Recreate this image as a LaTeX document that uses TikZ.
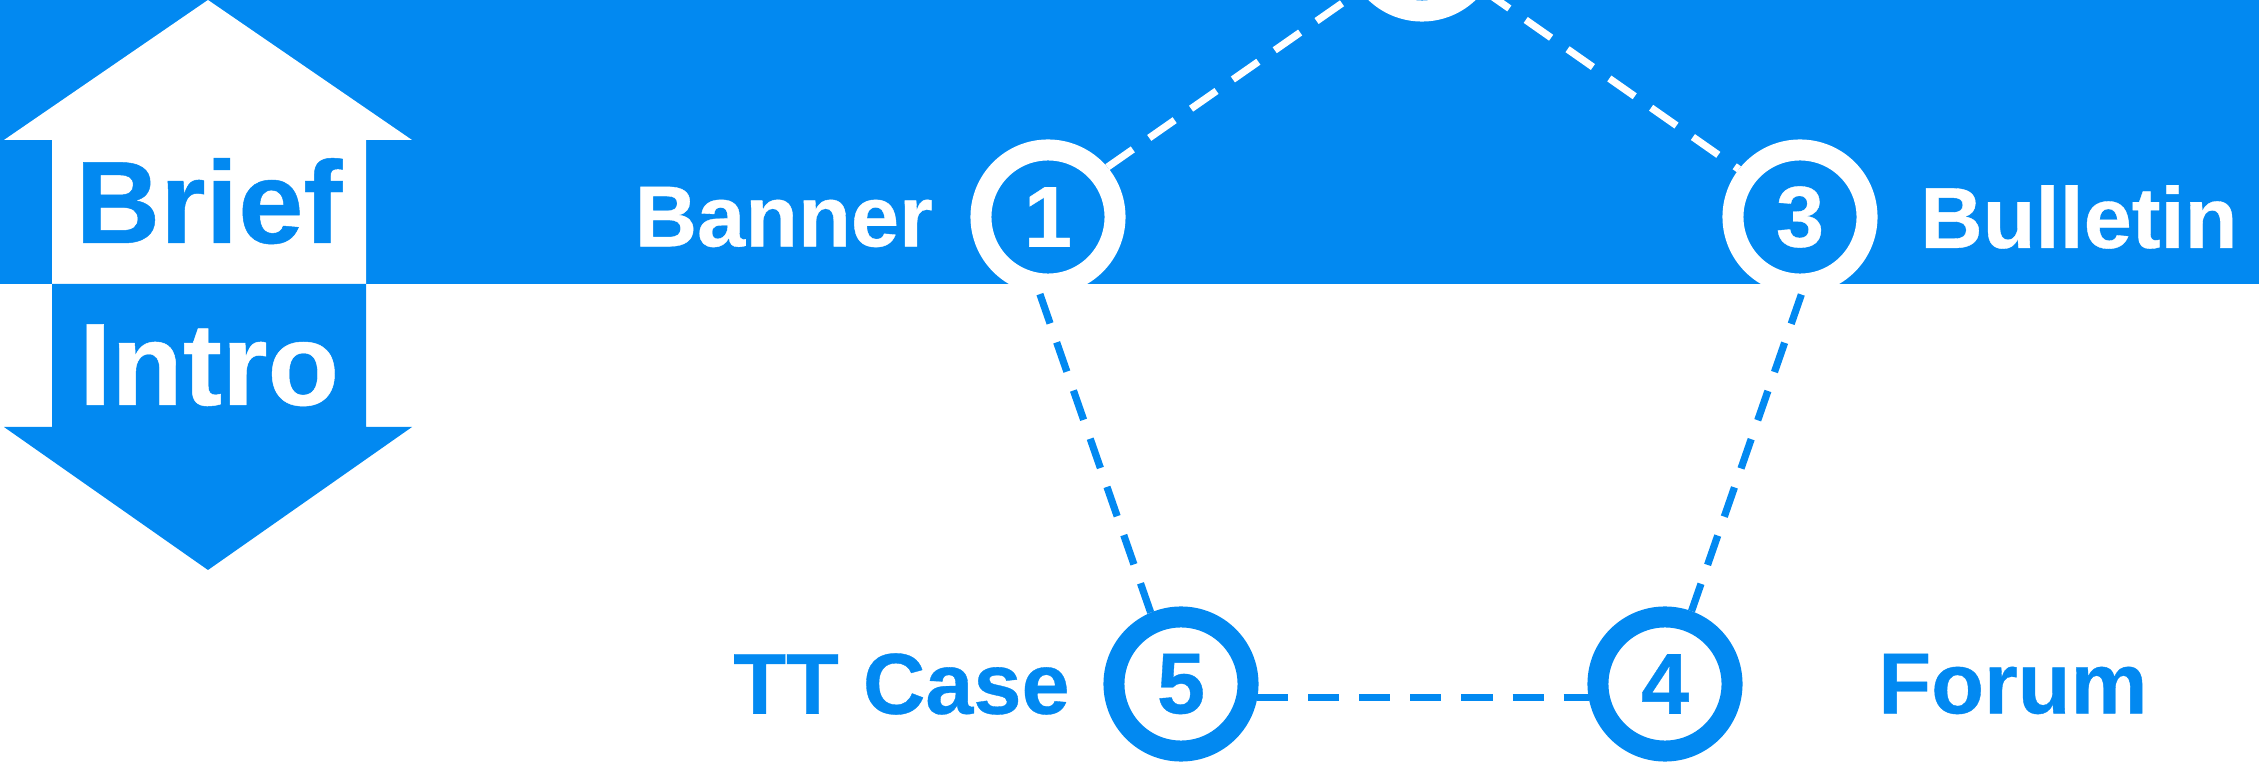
\documentclass[tikz,border=0pt]{standalone}
\usepackage{fontspec}
\setmainfont{Liberation Sans}[BoldFeatures={FakeBold=0.4}]
\usetikzlibrary{positioning}
\definecolor{introblue}{RGB}{2,137,241}

\begin{document}
\begin{tikzpicture}[x=0.01cm, y=-0.01cm, every node/.style={font=\bfseries\fontsize{24.6}{28}\selectfont},
    ring/.style={circle, line width=0.21cm, minimum size=1.34cm, inner sep=0pt},
    bandring/.style={ring, draw=white, text=white},
    plainring/.style={ring, draw=introblue, text=introblue},
    link/.style={line width=0.072cm, dash pattern=on 0.31cm off 0.2cm},
    bigtext/.style={anchor=base, font=\bfseries\fontsize{33.3}{38}\selectfont}]
    \useasboundingbox (0,0) rectangle (2259,767);
    \clip (0,0) rectangle (2259,767);
    \fill[introblue] (0,0) rectangle (2259,284);

    % double arrow, white on the band and blue below it
    \fill[white] (208,0) -- (412,140) -- (366,140) -- (366,284) -- (52,284) -- (52,140) -- (4,140) -- cycle;
    \fill[introblue] (52,284) -- (366,284) -- (366,427) -- (412,427) -- (208,570) -- (4,427) -- (52,427) -- cycle;
    \node (brief) [bigtext, text=introblue] at (209,243) {Brief};
    \node (intro) [bigtext, text=white] at (209,405) {Intro};

    \node (banner) [bandring] at (1048,217) {1};
    \node (hub) [bandring] at (1422,-56) {};
    \node (bulletin) [bandring] at (1800,217) {3};
    \node (forum) [plainring] at (1665,684) {4};
    \node (ttcase) [plainring] at (1181,684) {5};

    \node (bannerlabel) [inner sep=0pt, text=white, left=0.37cm of banner] {Banner};
    \node (bulletinlabel) [inner sep=0pt, text=white, right=0.42cm of bulletin] {Bulletin};
    \node (forumlabel) [inner sep=0pt, text=introblue, right=1.35cm of forum] {Forum};
    \node (ttcaselabel) [inner sep=0pt, text=introblue, left=0.33cm of ttcase] {TT Case};

    \draw[link, white] (banner.40) -- (hub.217);
    \draw[link, white] (hub.323) -- (bulletin.142);
    \draw[link, introblue] (banner.264) -- (ttcase.113);
    \draw[link, introblue] (bulletin.271) -- (forum.70);
    \draw[link, introblue] (ttcase.-10) -- (forum.190);
\end{tikzpicture}
\end{document}
